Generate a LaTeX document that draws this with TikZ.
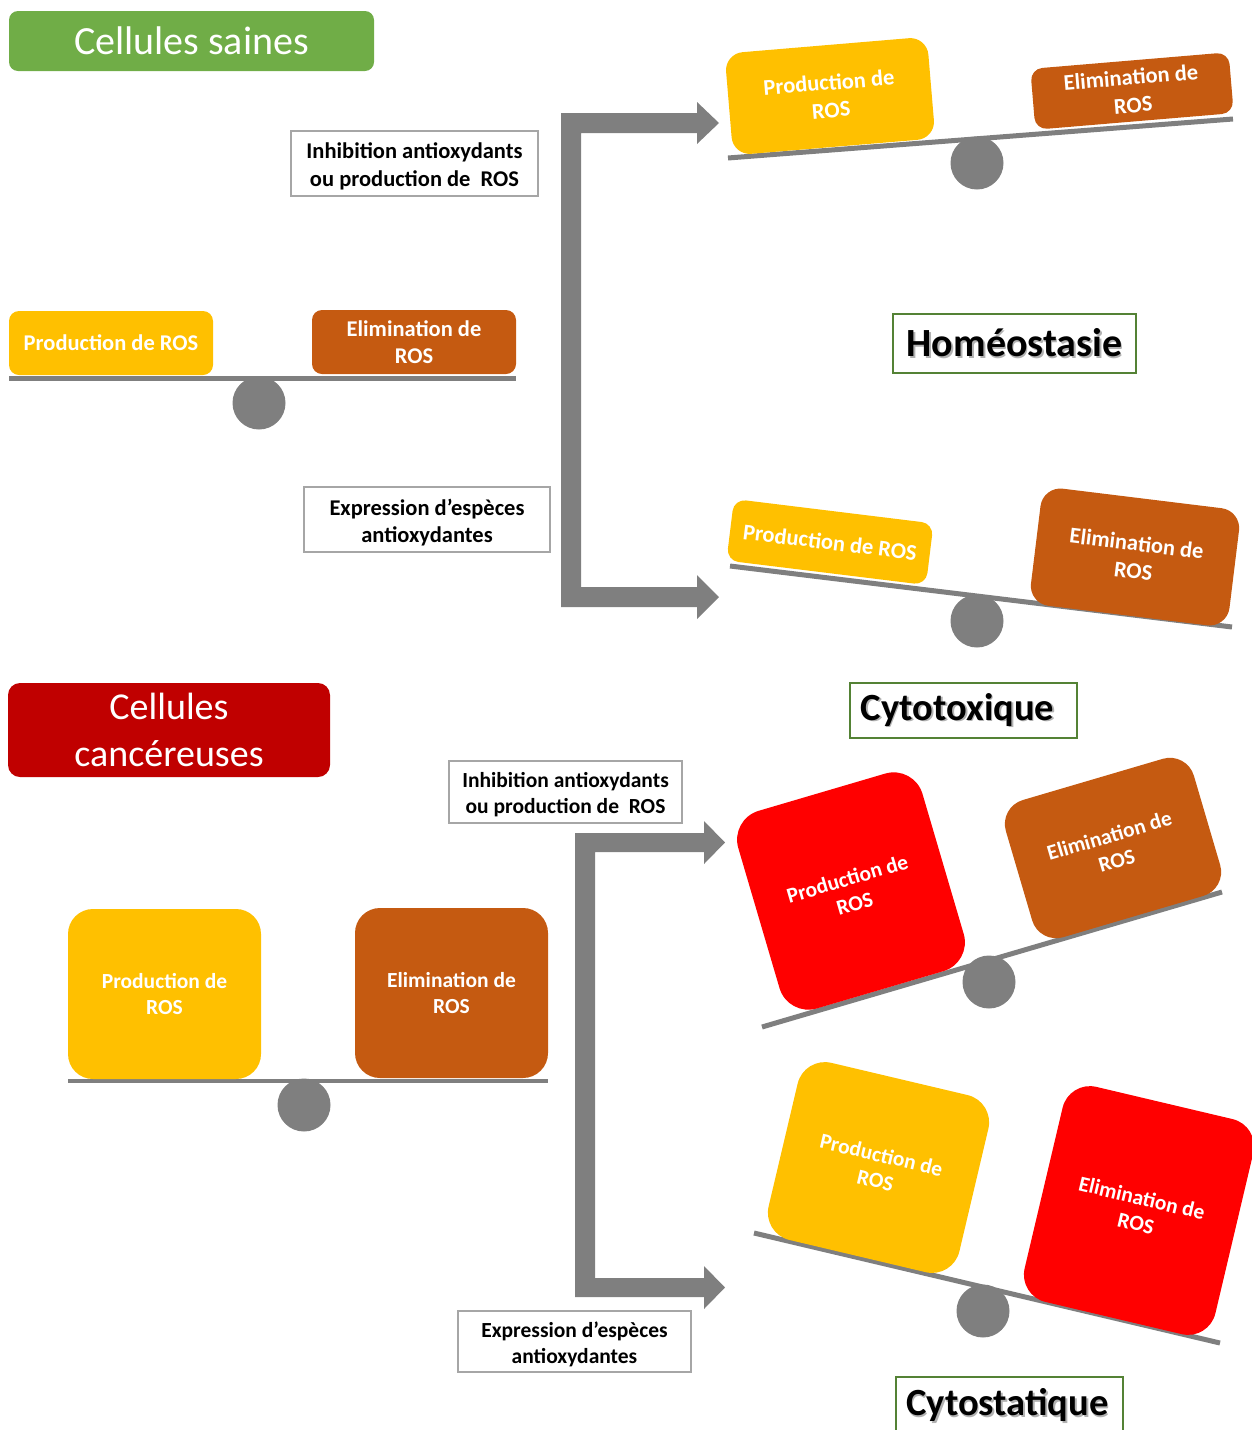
\documentclass[tikz,border=0pt]{standalone}
\usepackage{fontspec}
\setmainfont{Carlito}
\definecolor{cyellow}{HTML}{FFC000}
\definecolor{cbrown}{HTML}{C55A11}
\definecolor{cred}{HTML}{FF0000}
\definecolor{cdred}{HTML}{C00000}
\definecolor{cgreen}{HTML}{70AD47}
\definecolor{cdgreen}{HTML}{548235}
\definecolor{cgray}{HTML}{7F7F7F}
\definecolor{cborder}{HTML}{A6A6A6}
\newcommand\boxfnt{\fontsize{22.5}{27.5}\selectfont\bfseries}
\newcommand\boxfntb{\fontsize{21.5}{26}\selectfont\bfseries}
\newcommand\shadowtxt[1]{\makebox[0pt][l]{\hspace{1.6pt}\raisebox{-1.6pt}{\textcolor{black!30}{#1}}}#1}
\newcommand\lowered[2]{\raisebox{-3pt}[\height][\depth]{\parbox{#1}{\centering #2}}}
\tikzset{
  blk/.style={rounded corners=#1, inner sep=0pt, text=white, align=center, font=\boxfnt},
  lbl/.style={draw=cborder, line width=1.3pt, fill=white, inner sep=0pt, align=center, font=\boxfnt},
  lblb/.style={lbl, font=\boxfntb},
  outc/.style={draw=cdgreen, line width=2.6pt, fill=white, inner sep=0pt, font=\fontsize{38.5}{44}\selectfont\bfseries},
  beam/.style={draw=cgray, line width=5pt},
  fulcrum/.style={circle, fill=cgray, minimum size=53pt, inner sep=0pt},
  title/.style={rounded corners=#1, inner sep=0pt, text=white, align=center},
}
\begin{document}
\begin{tikzpicture}[x=1pt,y=-1pt]
\useasboundingbox (0,0) rectangle (1252,1430);

% ---------- titles ----------
\node[title=9pt, fill=cgreen, minimum width=365pt, minimum height=60pt, font=\fontsize{40}{48}\selectfont] (saines) at (191.5,41) {Cellules saines};
\node[title=12pt, fill=cdred, minimum width=322pt, minimum height=94pt, font=\fontsize{38}{47}\selectfont] (cancer) at (169,730) {Cellules\\cancéreuses};

% ---------- bracket arrows ----------
\fill[cgray] (561,113) -- (697,113) -- (697,102) -- (719,123) -- (697,144) -- (697,133) -- (581,133)
  -- (581,587) -- (697,587) -- (697,575) -- (719,597) -- (697,619) -- (697,607) -- (561,607) -- cycle;
\fill[cgray] (575,833) -- (704,833) -- (704,821) -- (725,842.5) -- (704,864) -- (704,852) -- (595,852)
  -- (595,1278) -- (704,1278) -- (704,1266) -- (725,1287.5) -- (704,1309) -- (704,1297) -- (575,1297) -- cycle;

% ---------- labels ----------
\node[lbl, minimum width=247pt, minimum height=65pt] (l1) at (414.5,163.5) {\lowered{240pt}{Inhibition antioxydants\\ou production de\ \ ROS}};
\node[lbl, minimum width=246pt, minimum height=65pt] (l2) at (427,519.5) {\lowered{240pt}{Expression d’espèces\\antioxydantes}};
\node[lblb, minimum width=233pt, minimum height=62pt] (l3) at (565.5,792) {\lowered{228pt}{Inhibition antioxydants\\ou production de\ \ ROS}};
\node[lblb, minimum width=233pt, minimum height=61pt] (l4) at (574.5,1341.5) {\lowered{228pt}{Expression d’espèces\\antioxydantes}};

% ---------- outcomes ----------
\node[outc, minimum width=243pt, minimum height=59pt, font=\fontsize{40}{46}\selectfont\bfseries] (homeo) at (1014.5,343.5) {\shadowtxt{Homéostasie}};
\node[outc, minimum width=227pt, minimum height=55pt] (cytotox) at (963.5,710.5) {\hspace{-12pt}\shadowtxt{Cytotoxique}};
\node[outc, minimum width=227pt, minimum height=58pt] (cytostat) at (1009.5,1406) {\hspace{-4pt}\shadowtxt{Cytostatique}};

% ---------- balance 1 (left, healthy) ----------
\node[fulcrum] (f1) at (259,403) {};
\coordinate (b1l) at (9,378); \coordinate (b1r) at (516,378);
\draw[beam] (b1l) -- (b1r);
\node[blk=10pt, fill=cyellow, minimum width=204pt, minimum height=64pt] (p1) at (111,343) {Production de ROS};
\node[blk=10pt, fill=cbrown, minimum width=204pt, minimum height=64pt] (e1) at (414,342) {Elimination de\\ROS};

% ---------- balance 2 (homeostasis) ----------
\node[fulcrum] (f2) at (977,163) {};
\coordinate (b2l) at (728,158); \coordinate (b2r) at (1233,119);
\draw[beam] (b2l) -- (b2r);
\node[blk=18pt, fill=cyellow, minimum width=203pt, minimum height=102pt, rotate=4.8] (p2) at (830,96) {Production de\\ROS};
\node[blk=12pt, fill=cbrown, minimum width=199pt, minimum height=61pt, rotate=4.8] (e2) at (1132,91) {Elimination de\\ROS};

% ---------- balance 3 (cytotoxic, healthy) ----------
\node[fulcrum] (f3) at (977,621) {};
\coordinate (b3l) at (730,566); \coordinate (b3r) at (1232,627);
\draw[beam] (b3l) -- (b3r);
\node[blk=12pt, fill=cyellow, minimum width=201pt, minimum height=62pt, rotate=-7] (p3) at (830,542) {Production de ROS};
\node[blk=20pt, fill=cbrown, minimum width=200pt, minimum height=118pt, rotate=-7] (e3) at (1135,557) {Elimination de\\ROS};

% ---------- balance 4 (left, cancer) ----------
\node[fulcrum] (f4) at (304,1105) {};
\coordinate (b4l) at (68,1081); \coordinate (b4r) at (548,1081);
\draw[beam, line width=4.5pt] (b4l) -- (b4r);
\node[blk=25pt, fill=cyellow, minimum width=193pt, minimum height=170pt, font=\boxfntb] (p4) at (164.5,994) {Production de\\ROS};
\node[blk=25pt, fill=cbrown, minimum width=193pt, minimum height=170pt, font=\boxfntb] (e4) at (451.5,993) {Elimination de\\ROS};

% ---------- balance 5 (cytotoxic, cancer) ----------
\node[fulcrum] (f5) at (989,982) {};
\coordinate (b5l) at (762,1027); \coordinate (b5r) at (1222,892);
\draw[beam] (b5l) -- (b5r);
\node[blk=30pt, fill=cred, minimum width=192pt, minimum height=206pt, rotate=16.4, font=\boxfntb] (p5) at (851,891) {Production de\\ROS};
\node[blk=25pt, fill=cbrown, minimum width=196pt, minimum height=143pt, rotate=16.4, font=\boxfntb] (e5) at (1113,848) {Elimination de\\ROS};

% ---------- balance 6 (cytostatic, cancer) ----------
\node[fulcrum] (f6) at (983,1311) {};
\coordinate (b6l) at (754,1233); \coordinate (b6r) at (1220,1343);
\draw[beam] (b6l) -- (b6r);
\node[blk=28pt, fill=cyellow, minimum width=196pt, minimum height=182pt, rotate=-13.3, font=\boxfntb] (p6) at (878.5,1167.5) {Production de\\ROS};
\node[blk=28pt, fill=cred, minimum width=196pt, minimum height=221pt, rotate=-13.3, font=\boxfntb] (e6) at (1139,1210.5) {Elimination de\\ROS};
\end{tikzpicture}
\end{document}
